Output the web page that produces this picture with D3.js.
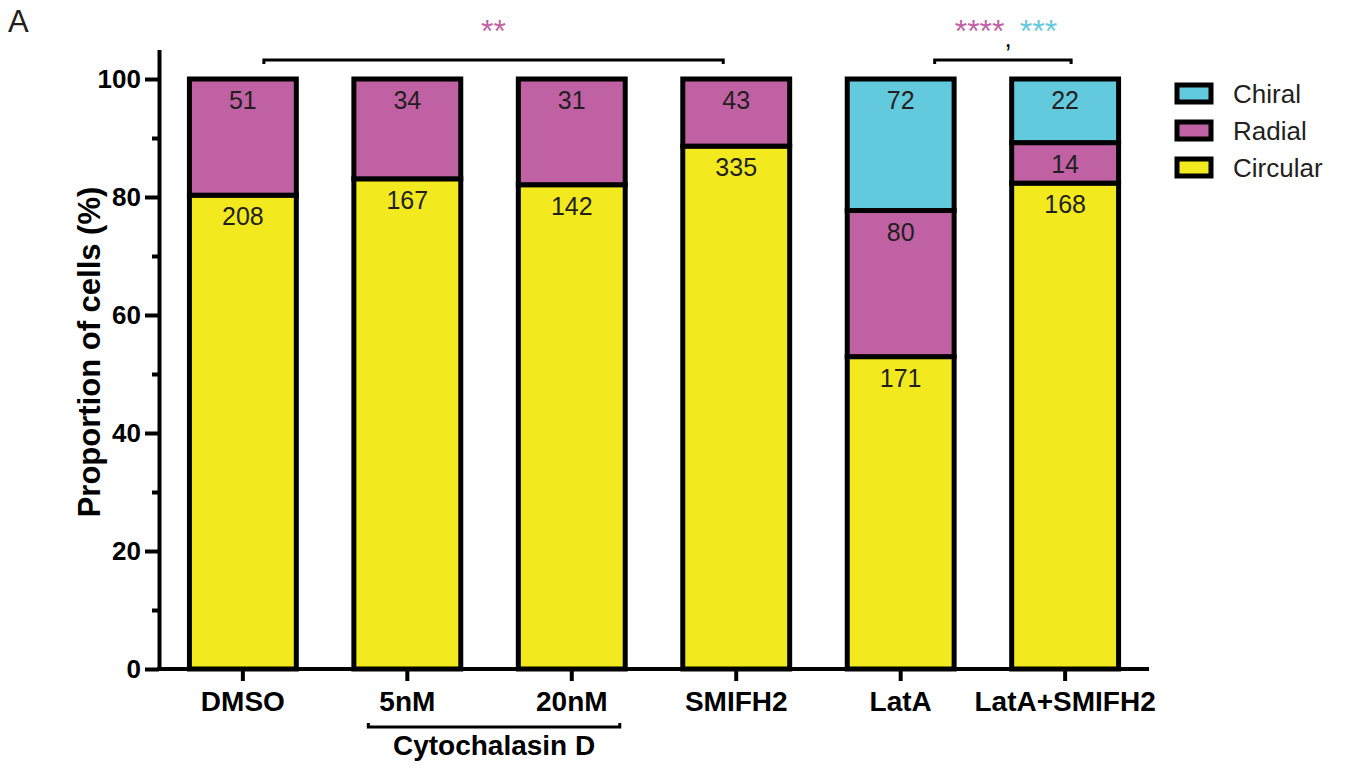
<!DOCTYPE html>
<html>
<head>
<meta charset="utf-8">
<script src="https://cdn.jsdelivr.net/npm/d3@7"></script>
<style>
  body { margin: 0; background: #fff; }
  text { font-family: "Liberation Sans", Arial, Helvetica, sans-serif; }
  .axis path, .axis line { stroke: #000; stroke-width: 4; }
  .axis text { font-weight: bold; fill: #000; }
</style>
</head>
<body>
<div id="chart"></div>
<script>
// counts of cells per shape category
const categories = ["DMSO", "5nM", "20nM", "SMIFH2", "LatA", "LatA+SMIFH2"];
const circular = [208, 167, 142, 335, 171, 168];
const radial = [51, 34, 31, 43, 80, 14];
const chiral = [0, 0, 0, 0, 72, 22];
const seriesNames = ["Circular", "Radial", "Chiral"];
const seriesColors = ["#f2ea1f", "#c061a4", "#63c9dc"];
const yTicks = [0, 20, 40, 60, 80, 100];
const yMinorTicks = [10, 30, 50, 70, 90];

const width = 1347, height = 769;

// rows in proportion (%)
const rows = categories.map((c, i) => {
  const total = circular[i] + radial[i] + chiral[i];
  return {
    cat: c,
    Circular: circular[i] / total * 100,
    Radial: radial[i] / total * 100,
    Chiral: chiral[i] / total * 100,
    counts: {Circular: circular[i], Radial: radial[i], Chiral: chiral[i]}
  };
});

const x = d3.scaleBand()
  .domain(categories)
  .range([159, 1149])
  .paddingInner(0.35)
  .paddingOuter(0.185);

const y = d3.scaleLinear()
  .domain([0, 105])
  .range([669, 669 - 105 * 5.9]);

const color = d3.scaleOrdinal().domain(seriesNames).range(seriesColors);

const svg = d3.select("#chart").append("svg")
  .attr("width", width)
  .attr("height", height);

// stacked bars
const stack = d3.stack().keys(seriesNames)(rows);

svg.append("g")
  .selectAll("g")
  .data(stack)
  .join("g")
  .attr("fill", d => color(d.key))
  .selectAll("rect")
  .data(d => d.filter(v => v[1] - v[0] > 0))
  .join("rect")
  .attr("x", d => x(d.data.cat))
  .attr("y", d => y(d[1]))
  .attr("width", x.bandwidth())
  .attr("height", d => y(d[0]) - y(d[1]))
  .attr("stroke", "#000")
  .attr("stroke-width", 5);

// count labels near the top of each segment
svg.append("g")
  .selectAll("text")
  .data(stack.flatMap(s => s.map(v => ({key: s.key, v}))).filter(d => d.v.data.counts[d.key] > 0))
  .join("text")
  .attr("x", d => x(d.v.data.cat) + x.bandwidth() / 2)
  .attr("y", d => y(d.v[1]) + 30)
  .attr("text-anchor", "middle")
  .attr("font-size", 25)
  .attr("fill", "#231f20")
  .text(d => d.v.data.counts[d.key]);

// axes
const yAxis = d3.axisLeft(y).tickValues(yTicks).tickSize(14).tickSizeOuter(0).tickPadding(4);
const yMinor = d3.axisLeft(y).tickValues(yMinorTicks).tickSize(7).tickSizeOuter(0).tickFormat("");

svg.append("g").attr("class", "axis")
  .attr("transform", "translate(159,0)")
  .call(yAxis)
  .call(g => g.selectAll("text").attr("font-size", 26));

svg.append("g").attr("class", "axis")
  .attr("transform", "translate(159,0)")
  .call(yMinor)
  .call(g => g.select(".domain").remove());

const xAxis = d3.axisBottom(x).tickSize(12).tickSizeOuter(0).tickPadding(10);
svg.append("g").attr("class", "axis")
  .attr("transform", `translate(0,${y(0)})`)
  .call(xAxis)
  .call(g => g.select(".domain").attr("d", `M157,0H1149`))
  .call(g => g.selectAll("text").attr("font-size", 28));

// y axis title
svg.append("text")
  .attr("transform", `translate(100,${(y(0) + y(100)) / 2 - 22}) rotate(-90)`)
  .attr("text-anchor", "middle")
  .attr("font-size", 31)
  .attr("font-weight", "bold")
  .text("Proportion of cells (%)");

// Cytochalasin D group bracket
const cx0 = x("5nM") + x.bandwidth() / 2 - 39;
const cx1 = x("20nM") + x.bandwidth() / 2 + 48;
svg.append("path")
  .attr("d", `M${cx0},723V727H${cx1}V723`)
  .attr("fill", "none")
  .attr("stroke", "#000")
  .attr("stroke-width", 3);
svg.append("text")
  .attr("x", (cx0 + cx1) / 2)
  .attr("y", 755)
  .attr("text-anchor", "middle")
  .attr("font-size", 28)
  .attr("font-weight", "bold")
  .text("Cytochalasin D");

// significance brackets
function bracket(a, b, off0, off1) {
  const x0 = x(a) + x.bandwidth() / 2 + off0;
  const x1 = x(b) + x.bandwidth() / 2 + off1;
  svg.append("path")
    .attr("d", `M${x0},64V60H${x1}V64`)
    .attr("fill", "none")
    .attr("stroke", "#000")
    .attr("stroke-width", 3);
  return (x0 + x1) / 2;
}
const m1 = bracket("DMSO", "SMIFH2", 21, -13);
svg.append("text")
  .attr("x", m1)
  .attr("y", 42)
  .attr("text-anchor", "middle")
  .attr("font-size", 32)
  .attr("fill", "#c061a4")
  .text("**");

const m2 = bracket("LatA", "LatA+SMIFH2", 34, 6);
const sig = svg.append("text")
  .attr("x", m2 + 3)
  .attr("y", 42)
  .attr("text-anchor", "middle")
  .attr("font-size", 32);
sig.append("tspan").attr("fill", "#c061a4").text("****");
sig.append("tspan").attr("fill", "#000").attr("dy", 5).attr("font-size", 26).text(",");
sig.append("tspan").attr("fill", "#63c9dc").attr("dy", -5).attr("dx", 8).text("***");

// legend
const legendItems = ["Chiral", "Radial", "Circular"];
const lg = svg.append("g").attr("transform", "translate(1177,85)");
const li = lg.selectAll("g")
  .data(legendItems)
  .join("g")
  .attr("transform", (d, i) => `translate(0,${i * 37})`);
li.append("rect")
  .attr("width", 34)
  .attr("height", 17)
  .attr("fill", d => color(d))
  .attr("stroke", "#000")
  .attr("stroke-width", 5);
li.append("text")
  .attr("x", 56)
  .attr("y", 18)
  .attr("font-size", 26)
  .attr("fill", "#231f20")
  .text(d => d);

// panel letter
svg.append("text")
  .attr("x", 8)
  .attr("y", 32)
  .attr("font-size", 31)
  .attr("fill", "#231f20")
  .text("A");
</script>
</body>
</html>
